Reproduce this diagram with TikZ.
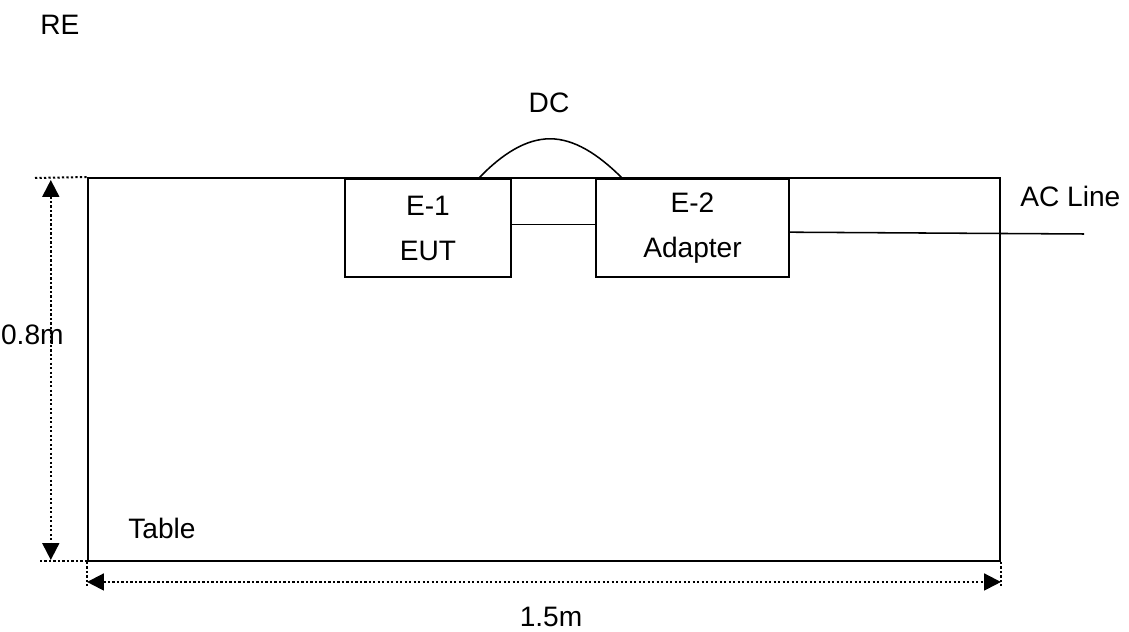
\documentclass[tikz,border=0pt]{standalone}
\usepackage{fontspec}
\setmainfont{Liberation Sans}
\usetikzlibrary{arrows.meta, positioning}

\begin{document}
\begin{tikzpicture}[
    table/.style={rectangle, draw=black, line width=1.4pt, minimum width=22.8cm, minimum height=9.575cm,
                  inner sep=0pt},
    unit/.style={rectangle, draw=black, line width=1.4pt, minimum height=2.45cm, inner sep=0pt,
                 align=center, font=\fontsize{20}{32}\selectfont},
    cable/.style={line width=1.1pt},
    dim/.style={{Triangle[length=0.42cm, width=0.42cm]}-{Triangle[length=0.42cm, width=0.42cm]},
                line width=1.4pt, dash pattern=on 1.6pt off 1.6pt},
    guide/.style={line width=1.4pt, dash pattern=on 1.6pt off 1.6pt},
    label/.style={font=\fontsize{20}{24}\selectfont, inner sep=0pt}
]
\useasboundingbox (0,0) rectangle (28.225,15.8);

\node[table] (tbl) at (13.6,6.5625) {};

\node[unit, minimum width=4.15cm, anchor=north west] (eut) at (8.6,11.35) {E-1\\EUT};
\node[unit, minimum width=4.825cm, anchor=north west] (adp) at (14.875,11.35) {E-2\\Adapter};

\coordinate (acend) at (27.1,9.95);
\coordinate (dcleft) at (11.975,11.35);
\coordinate (dctop) at (13.75,12.33);
\coordinate (dcright) at (15.55,11.35);
\coordinate (topref) at (0.875,11.35);
\coordinate (botref) at (1.0,1.775);
\coordinate (botend) at (2.75,1.775);

\draw[cable] ([yshift=2.5pt]eut.east) -- ([yshift=2.5pt]eut.east -| adp.west);
\draw[cable] ([yshift=-3pt]adp.east) -- (acend);
\draw[cable] (dcleft) .. controls (12.55,11.95) and (13.15,12.33) .. (dctop)
    .. controls (14.35,12.33) and (14.95,11.95) .. (dcright);

\draw[guide] (topref) -- (tbl.north west);
\draw[guide] (botref) -- (botend);
\draw[dim] (1.27,11.3) -- (1.27,1.8);
\draw[guide] (tbl.south west) -- ++(0,-0.6);
\draw[guide] (tbl.south east) -- ++(0,-0.6);
\draw[dim] ([yshift=-0.5cm]tbl.south west) -- ([yshift=-0.5cm]tbl.south east);

\node[label, anchor=west] (re) at (1.0,15.175) {RE};
\node[label] (dc) at (13.725,13.225) {DC};
\node[label, anchor=west] (acl) at (25.5,10.9) {AC Line};
\node[label, anchor=west] (height) at (0.02,7.42) {0.8m};
\node[label, anchor=west] (tname) at (3.2,2.6) {Table};
\node[label] (width) at (13.775,0.375) {1.5m};

\end{tikzpicture}
\end{document}
